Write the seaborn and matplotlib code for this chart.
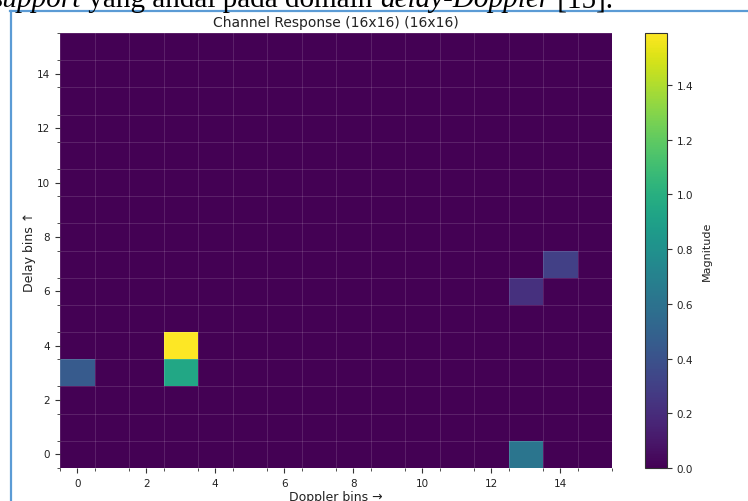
import numpy as np
import pandas as pd
import matplotlib
matplotlib.use("Agg")
import matplotlib.pyplot as plt
import seaborn as sns

# Delay-Doppler channel response: non-zero taps (delay, doppler, magnitude)
n_bins = 16
tap_delay = [3, 3, 4, 0, 6, 7]
tap_doppler = [0, 3, 3, 13, 13, 14]
tap_magnitude = [0.45, 0.95, 1.59, 0.62, 0.22, 0.30]
tick_values = [0, 2, 4, 6, 8, 10, 12, 14]
cbar_ticks = [0.0, 0.2, 0.4, 0.6, 0.8, 1.0, 1.2, 1.4]

grid = np.zeros((n_bins, n_bins))
for d, k, m in zip(tap_delay, tap_doppler, tap_magnitude):
    grid[d, k] = m
df = pd.DataFrame(grid, index=range(n_bins), columns=range(n_bins))

W, H = 748, 502
fig = plt.figure(figsize=(W / 100, H / 100), dpi=100)
ax = fig.add_axes([60 / W, (H - 469) / H, 552 / W, 435 / H])
cax = fig.add_axes([645 / W, (H - 469) / H, 22 / W, 435 / H])

sns.heatmap(df, ax=ax, cbar_ax=cax, cmap="viridis", vmin=0, vmax=max(tap_magnitude),
            cbar_kws={"label": "Magnitude", "ticks": cbar_ticks})
ax.set_ylim(0, n_bins)
ax.set_xlim(0, n_bins)

for axis in (ax.xaxis, ax.yaxis):
    axis.set_major_locator(matplotlib.ticker.FixedLocator(np.array(tick_values) + 0.5))
    axis.set_major_formatter(matplotlib.ticker.FixedFormatter([str(t) for t in tick_values]))
    axis.set_minor_locator(matplotlib.ticker.FixedLocator(np.arange(0, n_bins + 1)))
ax.tick_params(axis="both", which="major", labelsize=7.5, length=3.5, width=0.8,
               color="#333333", labelcolor="#222222")
ax.tick_params(axis="both", which="minor", length=2, width=0.6, color="#333333")
ax.tick_params(axis="y", labelrotation=0)
ax.tick_params(axis="x", labelrotation=0)
ax.grid(True, which="minor", color="white", alpha=0.15, linewidth=0.6)
ax.set_axisbelow(False)

ax.set_title("Channel Response (16x16) (16x16)", fontsize=10, color="#222222", pad=5)
ax.set_xlabel("Doppler bins \u2192", fontsize=9, color="#222222", labelpad=2)
ax.set_ylabel("Delay bins \u2191", fontsize=9, color="#222222", labelpad=1)

cbar = ax.collections[0].colorbar
cbar.outline.set_linewidth(0.8)
cbar.outline.set_edgecolor("#333333")
cbar.ax.tick_params(labelsize=7.5, length=3.5, width=0.8, color="#333333", labelcolor="#222222")
cbar.ax.set_yticklabels([f"{t:.1f}" for t in cbar_ticks])
cbar.set_label("Magnitude", fontsize=8, color="#222222", labelpad=6)

# page frame around the figure
frame_color = "#5b9bd5"
fig.add_artist(plt.Line2D([10.5 / W, 10.5 / W], [0, (H - 11.5) / H], color=frame_color,
                          linewidth=1.6, transform=fig.transFigure))
fig.add_artist(plt.Line2D([10 / W, 1], [(H - 11.5) / H, (H - 11.5) / H], color=frame_color,
                          linewidth=1.6, transform=fig.transFigure))

# caption line of the page, clipped at the top edge
txt_y = (H - 7) / H
parts = [("support", "italic"), (" yang andal pada domain ", "normal"),
         ("delay-Doppler", "italic"), (" [15].", "normal")]
renderer = fig.canvas.get_renderer()
x = -8 / W
for s, style in parts:
    t = fig.text(x, txt_y, s, fontsize=21, family="Liberation Serif", style=style,
                 color="black", va="baseline", ha="left")
    bb = t.get_window_extent(renderer=renderer)
    x += bb.width / W

fig.savefig("out.png", dpi=100)
